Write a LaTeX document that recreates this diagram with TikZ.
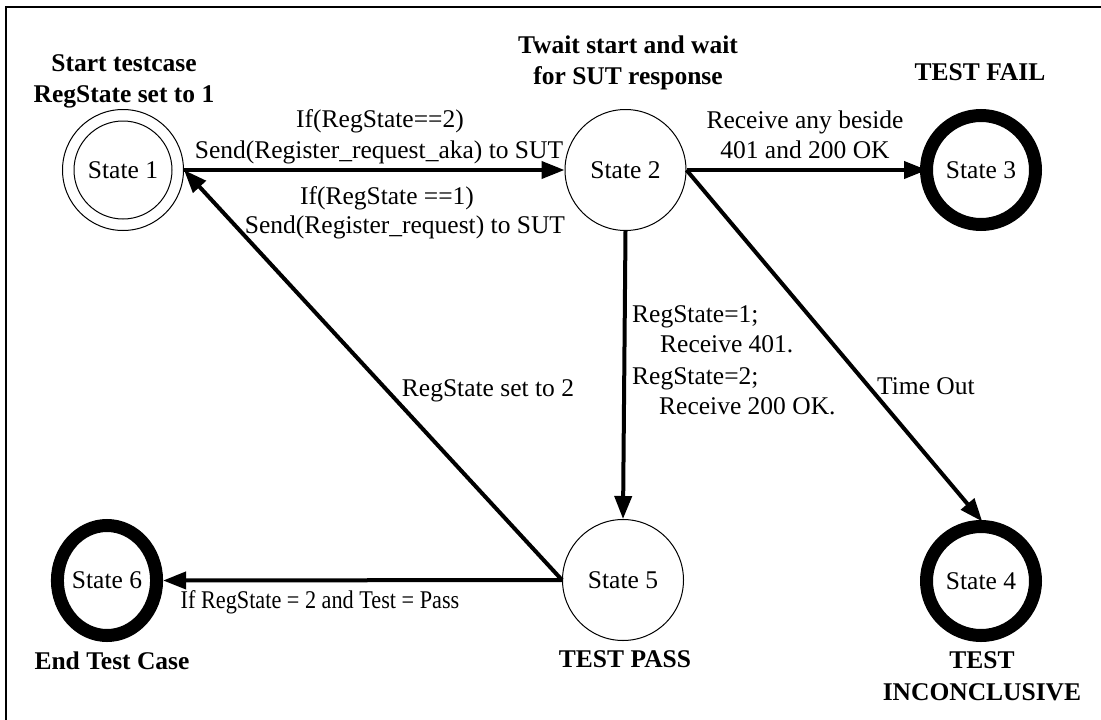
\documentclass[tikz,border=0pt]{standalone}
\usepackage{fontspec}
\setmainfont{Liberation Serif}
\usetikzlibrary{arrows.meta,shapes.geometric}
\begin{document}
\begin{tikzpicture}[x=1pt,y=-1pt,
  txt/.style={inner sep=0pt, text height=17pt, text depth=0pt, font=\fontsize{25.5}{31}\selectfont},
  btxt/.style={txt, font=\fontsize{25.5}{31}\selectfont\bfseries},
  plainst/.style={circle, draw, line width=1pt, minimum size=121pt, inner sep=0pt, font=\fontsize{25.5}{31}\selectfont},
  ringst/.style={circle, draw, line width=13pt, minimum size=109pt, inner sep=0pt, font=\fontsize{25.5}{31}\selectfont},
  ovalst/.style={ellipse, draw, line width=13pt, minimum width=91pt, minimum height=110pt, inner sep=0pt, font=\fontsize{25.5}{31}\selectfont},
  arr/.style={line width=4pt, -{Triangle[length=23pt,width=17pt]}},
]
\useasboundingbox (0,0) rectangle (1101,720);
\draw[line width=2pt] (6,720) -- (6,7) -- (1101,7);

% states
\node[plainst] (s1) at (123,170) {State 1};
\draw[line width=1pt] (s1.center) circle[radius=49pt];
\node[plainst] (s2) at (625.5,170) {State 2};
\node[ringst] (s3) at (981,170) {State 3};
\node[ringst] (s4) at (981,581) {State 4};
\node[plainst] (s5) at (623,580) {State 5};
\node[ovalst] (s6) at (107,580.5) {State 6};

% captions
\node[btxt] (c1a) at (124,63) {Start testcase};
\node[btxt] (c1b) at (124,94) {RegState set to 1};
\node[btxt] (c2a) at (628,45) {Twait start and wait};
\node[btxt] (c2b) at (628,76) {for SUT response};
\node[btxt] (c3) at (980,72) {TEST FAIL};
\node[btxt] (c4a) at (982,660) {TEST};
\node[btxt] (c4b) at (982,692) {INCONCLUSIVE};
\node[btxt] (c5) at (625,659) {TEST PASS};
\node[btxt] (c6) at (112,661) {End Test Case};

% connectors
\draw[arr] (s1.east) -- (s2.west);
\draw[arr, shorten >=-7pt] (s2.east) -- (s3.west);
\draw[arr, shorten >=-2pt] (s2.east) -- (s4.north);
\draw[arr] (s2.south) -- (s5.north);
\draw[arr] (s5.west) -- (s1.east);
\draw[arr] (s5.west) -- (s6.east);

% connector labels
\node[txt] (l1a) at (380,119) {If(RegState==2)};
\node[txt] (l1b) at (379,150) {Send(Register\_request\_aka) to SUT};
\node[txt] (l2a) at (387,196) {If(RegState ==1)};
\node[txt] (l2b) at (405,225) {Send(Register\_request) to SUT};
\node[txt] (l3a) at (805,120) {Receive any beside};
\node[txt] (l3b) at (805,150) {401 and 200 OK};
\node[txt, anchor=west] (l4a) at (632,314) {RegState=1;};
\node[txt, anchor=west] (l4b) at (660,344) {Receive 401.};
\node[txt, anchor=west] (l4c) at (632,376) {RegState=2;};
\node[txt, anchor=west] (l4d) at (659,406) {Receive 200 OK.};
\node[txt, anchor=west] (l5) at (877,386) {Time Out};
\node[txt] (l6) at (488,388) {RegState set to 2};
\node[txt] (l7) at (320,600) {\scalebox{0.872}[1]{If RegState = 2 and Test = Pass}};
\end{tikzpicture}
\end{document}
